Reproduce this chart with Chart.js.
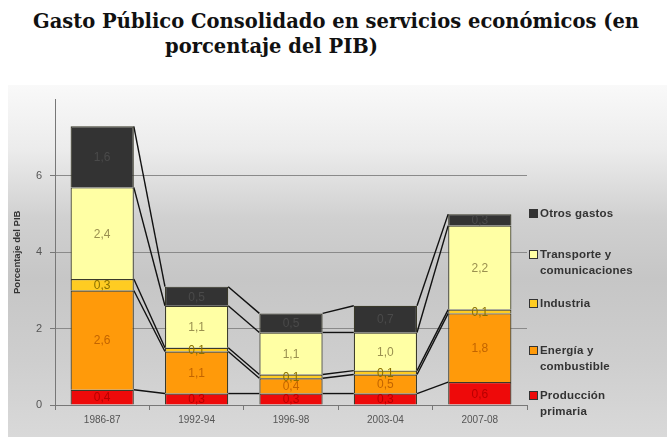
<!DOCTYPE html>
<html lang="es">
<head>
  <meta charset="UTF-8" />
  <title>Gasto Público Consolidado</title>
  <script src="https://cdn.jsdelivr.net/npm/chart.js"></script>
  <style>
    html, body { margin: 0; padding: 0; background: #fff; }
    #page { position: relative; width: 667px; height: 437px; overflow: hidden; }
    .title { position: absolute; white-space: nowrap; font-family: "DejaVu Serif", serif; font-weight: bold; font-size: 19.5px; color: #111; }
    #panel {
      position: absolute; left: 8px; top: 85px; width: 659px; height: 352px;
      background: linear-gradient(to bottom, #f9f9f9 0%, #ececec 18%, #d0d0d0 38%, #c6c6c6 55%, #cecece 78%, #d9d9d9 100%);
    }
    #chartBox { position: absolute; left: 0; top: 85px; width: 667px; height: 352px; }
    #legend { position: absolute; left: 529px; top: 0; font-family: "Liberation Sans", Arial, sans-serif; font-weight: bold; font-size: 11.5px; color: #333; letter-spacing: 0.2px; }
    .item { position: absolute; left: 0; white-space: nowrap; line-height: 16px; }
    .box { position: absolute; left: 0; top: 4px; width: 7px; height: 7px; border: 1px solid #333; }
    .txt { position: absolute; left: 11px; top: 0; }
  </style>
</head>
<body>
<div id="page">
  <div class="title" style="left: 33px; top: 10px;">Gasto Público Consolidado en servicios económicos (en</div>
  <div class="title" style="left: 165px; top: 35px;">porcentaje del PIB)</div>
  <div id="panel"></div>
  <div id="chartBox"><canvas id="chart" width="667" height="352"></canvas></div>
  <div id="legend"></div>
</div>

<script>
  // data, % of GDP
  const periods = ["1986-87", "1992-94", "1996-98", "2003-04", "2007-08"];
  const produccion = [0.4, 0.3, 0.3, 0.3, 0.6];
  const energia = [2.6, 1.1, 0.4, 0.5, 1.8];
  const industria = [0.3, 0.1, 0.1, 0.1, 0.1];
  const transporte = [2.4, 1.1, 1.1, 1.0, 2.2];
  const otros = [1.6, 0.5, 0.5, 0.7, 0.3];
  const yTicks = [0, 2, 4, 6];

  const seriesNames = [
    ["Producción", "primaria"],
    ["Energía y", "combustible"],
    ["Industria"],
    ["Transporte y", "comunicaciones"],
    ["Otros gastos"]
  ];
  const seriesValues = [produccion, energia, industria, transporte, otros];
  const fills = ["#ee0a0a", "#ff9a0a", "#ffcc22", "#ffffa4", "#333333"];
  const labelColors = ["#b80000", "#c26400", "#8a7000", "#9a9050", "#4a4a4a"];
  const legendTops = [395, 350, 303, 254, 213];

  const datasets = seriesValues.map((vals, i) => ({
    label: seriesNames[i].join(" "),
    data: vals,
    backgroundColor: fills[i],
    borderColor: "#3a3a2a",
    borderWidth: 1.2,
    barPercentage: 0.67,
    categoryPercentage: 1
  }));

  // excel style series lines between the stacked bars
  const seriesLines = {
    id: "seriesLines",
    beforeDatasetsDraw(chart) {
      const ctx = chart.ctx;
      ctx.save();
      ctx.strokeStyle = "#111";
      ctx.lineWidth = 1.4;
      chart.data.datasets.forEach((ds, d) => {
        const bars = chart.getDatasetMeta(d).data;
        for (let i = 0; i < bars.length - 1; i++) {
          const a = bars[i], b = bars[i + 1];
          ctx.beginPath();
          ctx.moveTo(a.x + a.width / 2, a.y);
          ctx.lineTo(b.x - b.width / 2, b.y);
          ctx.stroke();
        }
      });
      ctx.restore();
    }
  };

  const valueLabels = {
    id: "valueLabels",
    afterDatasetsDraw(chart) {
      const ctx = chart.ctx;
      ctx.save();
      ctx.font = "12px 'Liberation Sans', Arial, sans-serif";
      ctx.textAlign = "center";
      ctx.textBaseline = "middle";
      chart.data.datasets.forEach((ds, d) => {
        ctx.fillStyle = labelColors[d];
        chart.getDatasetMeta(d).data.forEach((bar, i) => {
          const p = bar.getCenterPoint();
          ctx.fillText(ds.data[i].toFixed(1).replace(".", ","), p.x, p.y + 1);
        });
      });
      ctx.restore();
    }
  };

  new Chart(document.getElementById("chart"), {
    type: "bar",
    data: { labels: periods, datasets },
    options: {
      responsive: false,
      animation: false,
      layout: { padding: { left: 0, right: 140, top: 5, bottom: 0 } },
      plugins: { legend: { display: false }, tooltip: { enabled: false } },
      scales: {
        x: {
          stacked: true,
          afterFit: s => { s.height = 32; },
          border: { color: "#777", width: 1 },
          grid: { offset: true, drawOnChartArea: false, tickLength: 5, color: "#777" },
          ticks: { color: "#555", font: { size: 10, family: "'Liberation Sans', Arial, sans-serif" }, padding: 4 }
        },
        y: {
          stacked: true,
          min: 0,
          max: 8,
          afterFit: s => { s.width = 55; },
          afterBuildTicks: s => { s.ticks = yTicks.concat([8]).map(v => ({ value: v })); },
          border: { color: "#777", width: 1 },
          grid: {
            color: c => (c.tick.value === 0 || c.tick.value === 8) ? "rgba(0,0,0,0)" : "#8a8a8a",
            tickColor: c => c.tick.value === 8 ? "rgba(0,0,0,0)" : "#777",
            tickLength: 5,
            lineWidth: 1
          },
          ticks: {
            color: "#555",
            font: { size: 11, family: "'Liberation Sans', Arial, sans-serif" },
            padding: 8,
            callback: v => v === 8 ? "" : v
          },
          title: {
            display: true,
            text: "Porcentaje del PIB",
            color: "#333",
            font: { size: 9.5, weight: "bold", family: "'Liberation Sans', Arial, sans-serif" },
            padding: { top: 12, bottom: 0 }
          }
        }
      }
    },
    plugins: [seriesLines, valueLabels]
  });

  // legend on the right, top item is the top of the stack
  const legend = document.getElementById("legend");
  for (let i = seriesNames.length - 1; i >= 0; i--) {
    const item = document.createElement("div");
    item.className = "item";
    item.style.top = (legendTops[i] - 8) + "px";
    item.innerHTML = `<div class="box" style="background:${fills[i]}"></div><div class="txt">${seriesNames[i].join("<br>")}</div>`;
    legend.appendChild(item);
  }
</script>
</body>
</html>
